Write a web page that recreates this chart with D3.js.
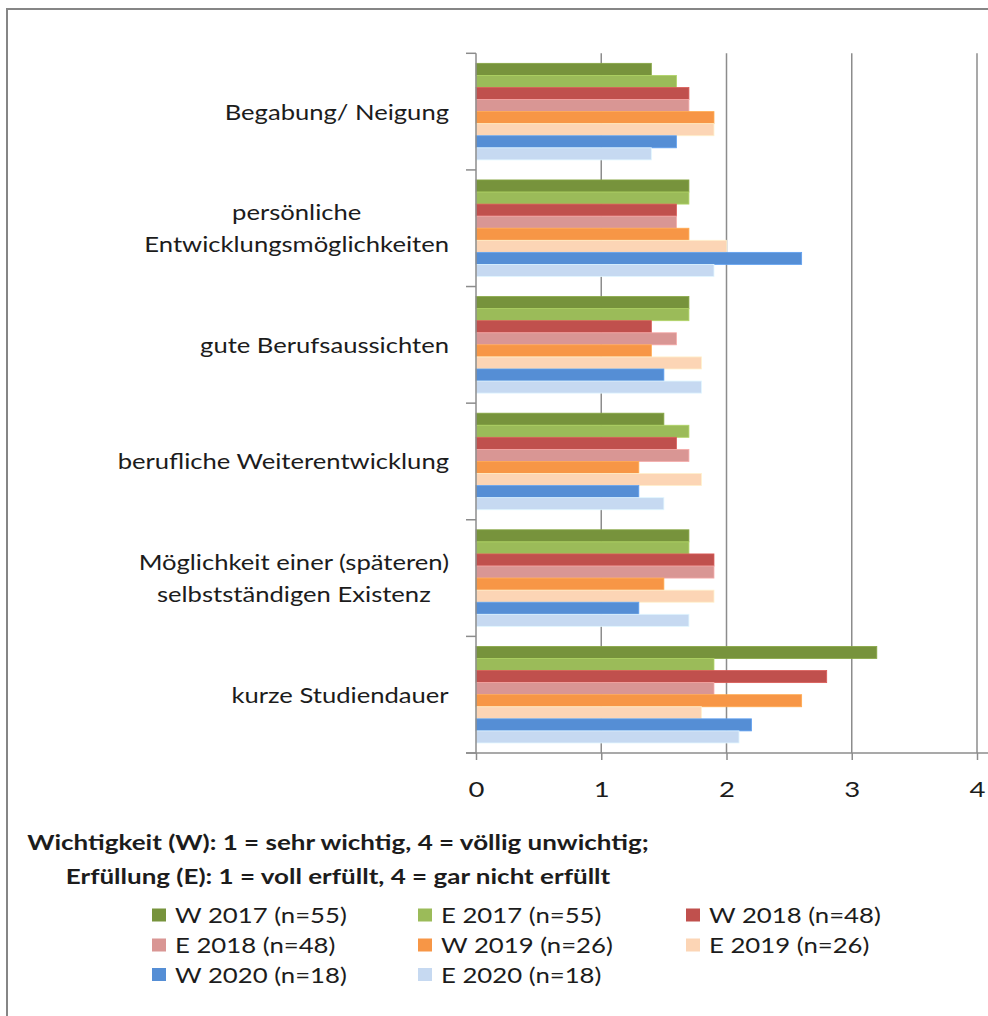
<!DOCTYPE html>
<html>
<head>
<meta charset="utf-8">
<script src="https://cdn.jsdelivr.net/npm/d3@7"></script>
<style>
  html, body { margin: 0; padding: 0; background: #fff; }
  svg { display: block; }
  text { font-family: Lato, "Open Sans", sans-serif; fill: #1c1c1c; }
</style>
</head>
<body>
<svg id="chart" width="988" height="1016"></svg>
<script>
// Motive for choosing the programme: importance (W) and fulfilment (E) per survey year
const categories = [
  "Begabung/ Neigung",
  "persönliche Entwicklungsmöglichkeiten",
  "gute Berufsaussichten",
  "berufliche Weiterentwicklung",
  "Möglichkeit einer (späteren) selbstständigen Existenz",
  "kurze Studiendauer"
];
const categoryLines = [
  ["Begabung/ Neigung"],
  ["persönliche", "Entwicklungsmöglichkeiten"],
  ["gute Berufsaussichten"],
  ["berufliche Weiterentwicklung"],
  ["Möglichkeit einer (späteren)", "selbstständigen Existenz"],
  ["kurze Studiendauer"]
];

const seriesNames = [
  "W 2017 (n=55)", "E 2017 (n=55)", "W 2018 (n=48)", "E 2018 (n=48)",
  "W 2019 (n=26)", "E 2019 (n=26)", "W 2020 (n=18)", "E 2020 (n=18)"
];
const seriesColors = [
  "#77933c", "#9bbb59", "#c0504d", "#d99694",
  "#f79646", "#fcd5b5", "#558ed5", "#c6d9f1"
];

const w2017 = [1.4, 1.7, 1.7, 1.5, 1.7, 3.2];
const e2017 = [1.6, 1.7, 1.7, 1.7, 1.7, 1.9];
const w2018 = [1.7, 1.6, 1.4, 1.6, 1.9, 2.8];
const e2018 = [1.7, 1.6, 1.6, 1.7, 1.9, 1.9];
const w2019 = [1.9, 1.7, 1.4, 1.3, 1.5, 2.6];
const e2019 = [1.9, 2.0, 1.8, 1.8, 1.9, 1.8];
const w2020 = [1.6, 2.6, 1.5, 1.3, 1.3, 2.2];
const e2020 = [1.4, 1.9, 1.8, 1.5, 1.7, 2.1];
const seriesValues = [w2017, e2017, w2018, e2018, w2019, e2019, w2020, e2020];

const xTicks = [0, 1, 2, 3, 4];
const titleLines = [
  "Wichtigkeit (W): 1 = sehr wichtig, 4 = völlig unwichtig;",
  "Erfüllung (E): 1 = voll erfüllt, 4 = gar nicht erfüllt"
];

const svg = d3.select("#chart");
const axisColor = "#8c8c8c";
const textStretch = 1.25;   // the typeface is drawn slightly widened

// outer frame (only top and left edges fall inside the canvas)
svg.append("path")
  .attr("d", "M7,1016 V9 H988")
  .attr("fill", "none")
  .attr("stroke", "#868686")
  .attr("stroke-width", 2);

const plot = { left: 476, right: 977, top: 53.3, bottom: 753 };

const x = d3.scaleLinear().domain([0, 4]).range([plot.left, plot.right]);
const y = d3.scaleBand().domain(categories).range([plot.top, plot.bottom]).padding(0);
const step = y.bandwidth();
const inner = d3.scaleBand().domain(seriesNames)
  .range([step * 0.086, step * 0.914]).padding(0);

// vertical gridlines
svg.append("g").selectAll("line")
  .data(xTicks.filter(t => t > 0))
  .join("line")
  .attr("x1", d => x(d)).attr("x2", d => x(d))
  .attr("y1", plot.top).attr("y2", plot.bottom)
  .attr("stroke", axisColor).attr("stroke-width", 1.5);

// bars
const groups = svg.append("g").selectAll("g")
  .data(categories)
  .join("g")
  .attr("transform", d => `translate(0,${y(d)})`);

groups.selectAll("rect")
  .data((c, ci) => seriesNames.map((s, si) => ({ s, si, v: seriesValues[si][ci] })))
  .join("rect")
  .attr("x", x(0))
  .attr("y", d => inner(d.s))
  .attr("width", d => x(d.v) - x(0))
  .attr("height", inner.bandwidth())
  .attr("fill", d => seriesColors[d.si])
  .attr("stroke", d => d3.color(seriesColors[d.si]).brighter(0.35))
  .attr("stroke-width", 0.8);

// category axis (left) with ticks between groups
const yAxisG = svg.append("g");
yAxisG.append("line")
  .attr("x1", plot.left).attr("x2", plot.left)
  .attr("y1", plot.top).attr("y2", plot.bottom)
  .attr("stroke", axisColor).attr("stroke-width", 1.5);
const boundaries = categories.map(c => y(c)).concat([plot.bottom]);
yAxisG.selectAll("line.tick")
  .data(boundaries)
  .join("line")
  .attr("class", "tick")
  .attr("x1", plot.left - 10).attr("x2", plot.left)
  .attr("y1", d => d).attr("y2", d => d)
  .attr("stroke", axisColor).attr("stroke-width", 1.5);

// category labels: centred multi-line block, right-aligned against the axis
const lineH = 31.5;
const labelG = svg.append("g");
categories.forEach((c, ci) => {
  const lines = categoryLines[ci];
  const cy = y(c) + step / 2;
  const g = labelG.append("g")
    .attr("transform", `translate(449,${cy}) scale(${textStretch},1)`);
  const t = g.append("text")
    .attr("font-size", 20.5)
    .attr("text-anchor", "middle")
    .attr("dominant-baseline", "central");
  lines.forEach((ln, li) => {
    t.append("tspan")
      .attr("x", 0)
      .attr("y", (li - (lines.length - 1) / 2) * lineH)
      .text(ln);
  });
  const w = t.node().getBBox().width;
  t.selectAll("tspan").attr("x", -w / 2);
});

// value axis (bottom)
const xAxis = d3.axisBottom(x).tickValues(xTicks).tickSize(7).tickPadding(0)
  .tickFormat(d3.format("d"));
const xAxisG = svg.append("g")
  .attr("transform", `translate(0,${plot.bottom})`)
  .call(xAxis);
xAxisG.select(".domain").remove();
xAxisG.insert("line", ":first-child")
  .attr("x1", plot.left - 10).attr("x2", 988)
  .attr("y1", 0).attr("y2", 0)
  .attr("stroke", axisColor).attr("stroke-width", 1.5);
xAxisG.selectAll(".tick line").attr("stroke", axisColor).attr("stroke-width", 1.5);
xAxisG.selectAll(".tick text")
  .attr("y", 35)
  .attr("dy", null)
  .attr("dominant-baseline", "central")
  .attr("transform", `scale(${textStretch},1)`)
  .attr("font-size", 22)
  .attr("font-family", "Lato, 'Open Sans', sans-serif")
  .attr("fill", "#1c1c1c");

// legend title
svg.append("g").selectAll("g")
  .data(titleLines)
  .join("g")
  .attr("transform", (d, i) => `translate(338,${842 + i * 34}) scale(${textStretch},1)`)
  .append("text")
  .attr("text-anchor", "middle")
  .attr("dominant-baseline", "central")
  .attr("font-size", 20.8)
  .attr("font-weight", "bold")
  .text(d => d);

// legend entries: three columns
const colX = [152, 418, 686];
const rowY = [915.5, 945.5, 975];
const legend = svg.append("g").selectAll("g")
  .data(seriesNames)
  .join("g")
  .attr("transform", (d, i) => `translate(${colX[i % 3]},${rowY[Math.floor(i / 3)]})`);
legend.append("rect")
  .attr("x", 0).attr("y", -7)
  .attr("width", 14).attr("height", 13)
  .attr("fill", (d, i) => seriesColors[i]);
legend.append("g")
  .attr("transform", `translate(23,0) scale(${textStretch},1)`)
  .append("text")
  .attr("dominant-baseline", "central")
  .attr("font-size", 20.6)
  .text(d => d);
</script>
</body>
</html>
